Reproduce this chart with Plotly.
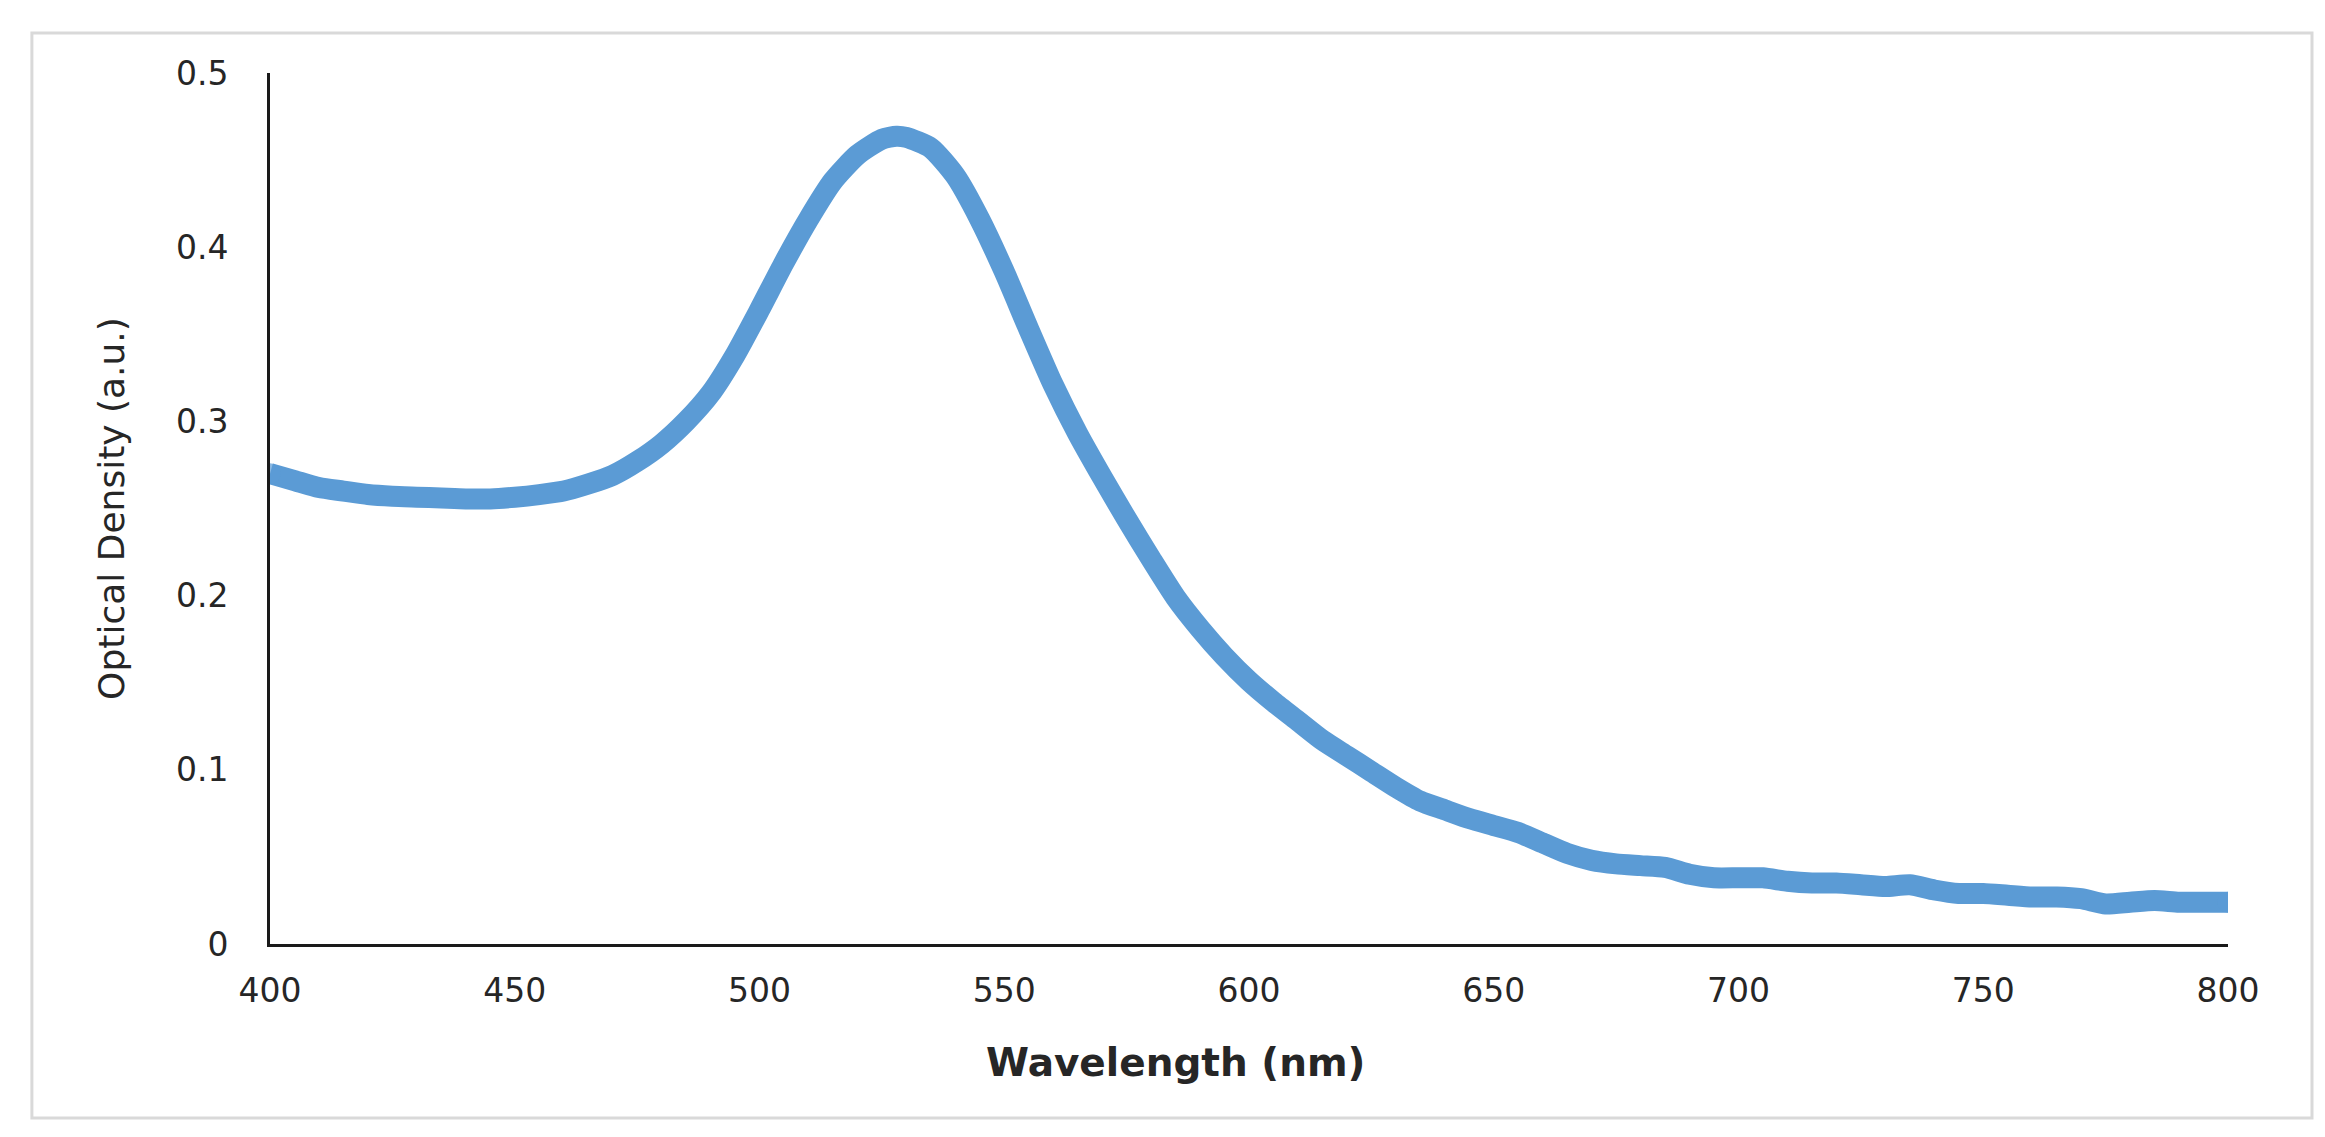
import plotly.graph_objects as go

# Absorbance spectrum
wavelength_nm = [400, 405, 410, 415, 420, 425, 430, 435, 440, 445,
                 450, 455, 460, 465, 470, 475, 480, 485, 490, 495,
                 500, 505, 510, 515, 520, 525, 528, 530, 535, 540,
                 545, 550, 555, 560, 565, 570, 575, 580, 585, 590,
                 595, 600, 605, 610, 615, 620, 625, 630, 635, 640,
                 645, 650, 655, 660, 665, 670, 675, 680, 685, 690,
                 695, 700, 705, 710, 715, 720, 725, 730, 735, 740,
                 745, 750, 755, 760, 765, 770, 775, 780, 785, 790,
                 795, 800]
optical_density = [0.270, 0.266, 0.262, 0.260, 0.258, 0.257, 0.2565, 0.256, 0.2555, 0.2555,
                   0.2565, 0.258, 0.260, 0.264, 0.269, 0.277, 0.287, 0.300, 0.316, 0.338,
                   0.364, 0.391, 0.416, 0.438, 0.453, 0.462, 0.4637, 0.463, 0.457, 0.441,
                   0.416, 0.386, 0.353, 0.321, 0.293, 0.268, 0.244, 0.221, 0.199, 0.181,
                   0.165, 0.151, 0.139, 0.128, 0.117, 0.108, 0.099, 0.090, 0.082, 0.077,
                   0.072, 0.068, 0.064, 0.058, 0.052, 0.048, 0.046, 0.045, 0.044, 0.040,
                   0.038, 0.038, 0.038, 0.036, 0.035, 0.035, 0.034, 0.033, 0.034, 0.031,
                   0.029, 0.029, 0.028, 0.027, 0.027, 0.026, 0.023, 0.024, 0.025, 0.024,
                   0.024, 0.024]

x_ticks = [400, 450, 500, 550, 600, 650, 700, 750, 800]
y_ticks = [0, 0.1, 0.2, 0.3, 0.4, 0.5]
y_tick_text = ["0", "0.1", "0.2", "0.3", "0.4", "0.5"]

BLUE = "#5B9BD5"
TEXT = "#262626"
FONT = "DejaVu Sans"
LINE_W = 21

# only the two end points get a marker, so the stroke has round ends
end_caps = [LINE_W] + [0] * (len(wavelength_nm) - 2) + [LINE_W]

fig = go.Figure()
fig.add_trace(go.Scatter(x=wavelength_nm, y=optical_density,
                         mode="lines+markers",
                         line=dict(color=BLUE, width=LINE_W, shape="spline", smoothing=0.6),
                         marker=dict(color=BLUE, size=end_caps, line=dict(width=0)),
                         showlegend=False, hoverinfo="x+y"))

fig.update_layout(
    width=2325, height=1137,
    margin=dict(l=262, r=105, t=65, b=201),
    paper_bgcolor="white", plot_bgcolor="white",
    font=dict(family=FONT, color=TEXT),
    xaxis=dict(range=[400, 800], tickvals=x_ticks, showgrid=False, zeroline=False,
               showline=True, linecolor="#1a1a1a", linewidth=3,
               ticks="outside", ticklen=15, tickcolor="rgba(0,0,0,0)",
               tickfont=dict(family=FONT, size=33, color=TEXT)),
    yaxis=dict(range=[0, 0.5], tickvals=y_ticks, ticktext=y_tick_text, showgrid=False,
               zeroline=False, showline=True, linecolor="#1a1a1a", linewidth=3,
               ticks="outside", ticklen=32, tickcolor="rgba(0,0,0,0)",
               tickfont=dict(family=FONT, size=33, color=TEXT)),
    annotations=[
        dict(text="<b>Wavelength (nm)</b>", xref="paper", yref="paper",
             x=0.4627, y=-0.1366, xanchor="center", yanchor="middle", showarrow=False,
             font=dict(family=FONT, size=39, color=TEXT)),
        dict(text="Optical Density (a.u.)", xref="paper", yref="paper",
             x=-0.081, y=0.5, xanchor="center", yanchor="middle", showarrow=False,
             textangle=-90, font=dict(family=FONT, size=36, color=TEXT)),
    ],
    shapes=[
        # light grey frame round the whole chart
        dict(type="rect", xref="paper", yref="paper",
             x0=-0.1216, x1=1.0429, y0=-0.1998, y1=1.0459,
             line=dict(color="#d9d9d9", width=3), fillcolor="rgba(0,0,0,0)", layer="below"),
    ],
)

fig.write_html("out.html")
